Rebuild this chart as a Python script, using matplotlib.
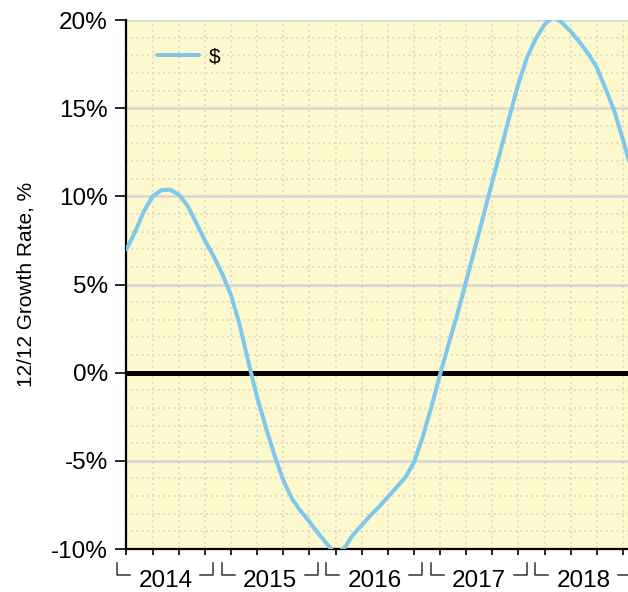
import numpy as np
import matplotlib
matplotlib.use("Agg")
import matplotlib.pyplot as plt
from matplotlib.ticker import MultipleLocator, FixedLocator, NullFormatter

plt.rcParams['font.family'] = ['Liberation Sans', 'DejaVu Sans']

# ------ data: monthly 12/12 growth rate, Feb 2014 .. Dec 2018 ------
first_year = 2014
first_month = 2  # February
growth = [7.0, 8.0, 9.15, 10.0, 10.35, 10.38, 10.1, 9.48, 8.5, 7.5, 6.6,
          5.6, 4.4, 2.7, 0.6, -1.4, -3.1, -4.7, -6.1, -7.15, -7.85, -8.45,
          -9.1, -9.7, -10.3, -9.95, -9.2, -8.65, -8.1, -7.6, -7.05, -6.5,
          -5.95, -5.1, -3.65, -1.95, -0.1, 1.65, 3.35, 5.2, 7.05, 8.95,
          10.85, 12.7, 14.6, 16.4, 17.9, 18.95, 19.75, 20.2, 19.85, 19.35,
          18.75, 18.1, 17.3, 16.1, 14.85, 13.2, 11.5]
years = [2014, 2015, 2016, 2017, 2018]
series_name = r"\$"
y_label = "12/12 Growth Rate, %"

# month mid-points as fractional years
months = np.arange(len(growth)) + (first_month - 1)
x = first_year + (months + 0.5) / 12.0

# ----------- plot ----------------------------
fig = plt.figure(figsize=(6.28, 5.92), dpi=100)
ax = fig.add_axes([0.2006, 0.0726, 0.7994, 0.8936])
ax.set_facecolor('#fef8cd')

ax.plot(x, growth, color='#80c8ea', lw=2.9, solid_capstyle='round',
        solid_joinstyle='round', label=series_name, zorder=4)
ax.axhline(0, color='black', lw=3.6, zorder=3)

ax.set_xlim(2014.12, 2018.923)
ax.set_ylim(-10, 20)

# y axis
ax.yaxis.set_minor_locator(MultipleLocator(1))
ax.set_yticks(np.arange(-10, 21, 5))
ax.set_yticklabels([f"{v}%" for v in range(-10, 21, 5)])
ax.tick_params(axis='y', which='major', length=8, width=1.2, pad=5,
               labelsize=17.5, colors='black')
ax.tick_params(axis='y', which='minor', length=0)
ax.set_ylabel(y_label, fontsize=15)
ax.yaxis.set_label_coords(-0.18, 0.5)

# x axis: quarterly ticks on data months
ax.xaxis.set_major_locator(FixedLocator(x[::3]))
ax.xaxis.set_major_formatter(NullFormatter())
ax.tick_params(axis='x', which='major', length=4, width=1.2)

# grid
ax.grid(axis='y', which='major', color='#d6d6d6', lw=1.8, ls='-', zorder=1)
ax.grid(axis='y', which='minor', color='#d2d2d2', lw=1.2, ls=(0, (1, 2.2)), zorder=1)
ax.grid(axis='x', which='major', color='#d2d2d2', lw=1.2, ls=(0, (1, 2.2)), zorder=1)
ax.set_axisbelow(True)

for s in ['top', 'right']:
    ax.spines[s].set_visible(False)
for s in ['left', 'bottom']:
    ax.spines[s].set_linewidth(1.6)
    ax.spines[s].set_color('black')

# year labels with brackets under the axis
tr = ax.get_xaxis_transform()
yb_top, yb_bot = -0.0265, -0.049
for yr in years:
    l0 = yr + 0.034
    r0 = yr + 1 - 0.045
    ax.plot([l0, l0, l0 + 0.125], [yb_top, yb_bot, yb_bot], color='#333333',
            lw=1.1, transform=tr, clip_on=False)
    ax.plot([r0 - 0.125, r0, r0], [yb_bot, yb_bot, yb_top], color='#333333',
            lw=1.1, transform=tr, clip_on=False)
    ax.text(yr + 0.5, -0.072, str(yr), transform=tr, ha='center',
            va='baseline', fontsize=17.5)

leg = ax.legend(loc='center left', bbox_to_anchor=(0.062, 0.93), frameon=False,
                fontsize=15, handlelength=2.0, handletextpad=0.5,
                borderpad=0, borderaxespad=0)

plt.savefig('out.png', dpi=100)
